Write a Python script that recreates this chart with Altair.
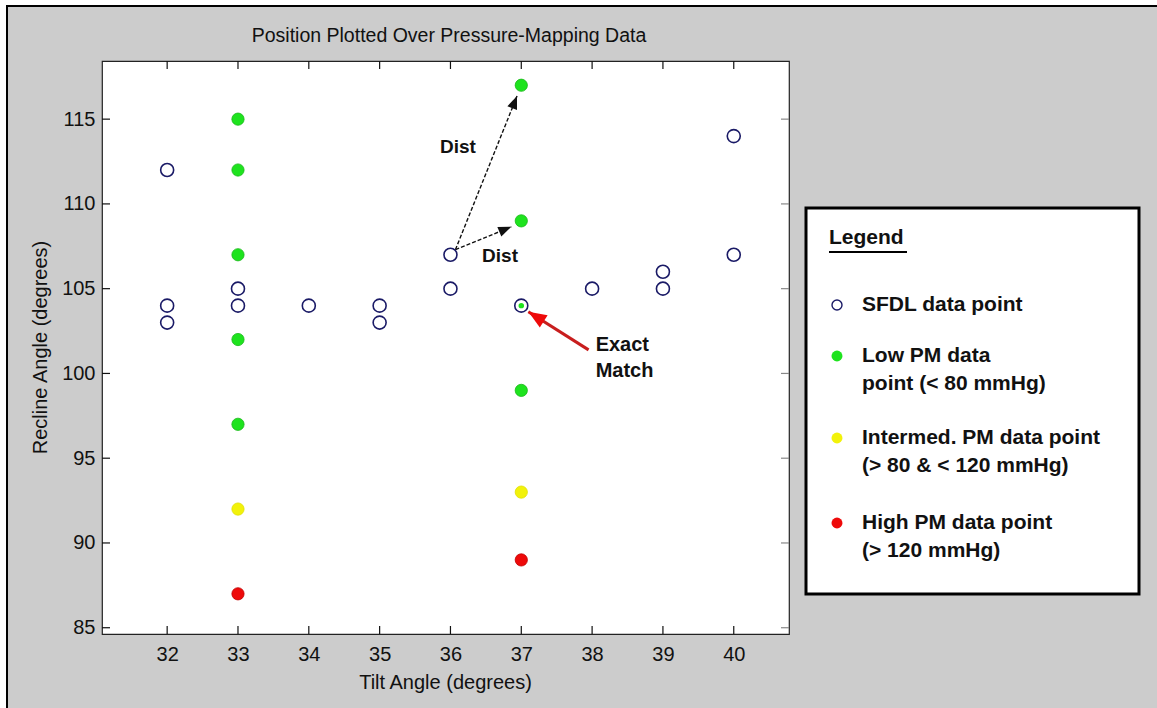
import math
import altair as alt
import pandas as pd

# ---------------- data ----------------
sfdl_tilt = [32, 32, 32, 33, 33, 34, 35, 35, 36, 36, 37, 38, 39, 39, 40, 40]
sfdl_recline = [112, 104, 103, 105, 104, 104, 104, 103, 107, 105, 104, 105, 106, 105, 114, 107]

low_tilt = [33, 33, 33, 33, 33, 37, 37, 37]
low_recline = [115, 112, 107, 102, 97, 117, 109, 99]

exact_tilt = [37]
exact_recline = [104]

inter_tilt = [33, 37]
inter_recline = [92, 93]

high_tilt = [33, 37]
high_recline = [87, 89]

x_ticks = [32, 33, 34, 35, 36, 37, 38, 39, 40]
y_ticks = [85, 90, 95, 100, 105, 110, 115]

title_text = "Position Plotted Over Pressure-Mapping Data"
x_title = "Tilt Angle (degrees)"
y_title = "Recline Angle (degrees)"

# annotation arrows (tail -> tip, data units)
dist_x1 = [36.07, 36.07]
dist_y1 = [107.3, 107.3]
dist_x2 = [36.94, 36.86]
dist_y2 = [116.36, 108.65]
dist_text = ["Dist", "Dist"]
dist_tx = [36.106, 36.70]
dist_ty = [113.37, 106.9]

match_x1 = [37.95]
match_y1 = [101.39]
match_x2 = [37.10]
match_y2 = [103.64]
match_text = ["Exact", "Match"]
match_tx = [38.05, 38.05]
match_ty = [101.68, 100.17]

legend_title = "Legend"
legend_labels = [
    ["SFDL data point"],
    ["Low PM data", "point (< 80 mmHg)"],
    ["Intermed. PM data point", "(> 80 & < 120 mmHg)"],
    ["High PM data point", "(> 120 mmHg)"],
]

# ---------------- layout ----------------
W, H = 687, 573
PL, PT = 102, 61
TOTAL_W, TOTAL_H = 1157, 708
XDOM = [31.08, 40.78]
YDOM = [84.63, 118.43]
FONT = "Liberation Sans"

NAVY = "#1a1a66"
GREEN = "#1ee31e"
YELLOW = "#f2f20a"
RED = "#ee0a0a"

xs = alt.Scale(domain=XDOM, nice=False, zero=False)
ys = alt.Scale(domain=YDOM, nice=False, zero=False)
x_axis = alt.Axis(values=x_ticks, title=None, labelPadding=10, labelFlush=False)
y_axis = alt.Axis(values=y_ticks, title=None, labelPadding=7)


def X(f):
    return alt.X(f"{f}:Q", scale=xs, axis=x_axis)


def Y(f):
    return alt.Y(f"{f}:Q", scale=ys, axis=y_axis)


one = alt.Data(values=[{"a": 1}])


def box(x1, x2, y1, y2, fill, stroke=None, sw=0):
    kw = dict(fill=fill, strokeWidth=sw)
    if stroke:
        kw["stroke"] = stroke
    return alt.Chart(one).mark_rect(**kw).encode(
        x=alt.value(x1), x2=alt.value(x2), y=alt.value(y1), y2=alt.value(y2))


def label(text, x, y, size=20, bold=False, align="left", angle=0, color="#111"):
    kw = dict(font=FONT, fontSize=size, fontWeight="bold" if bold else "normal",
              align=align, baseline="middle", color=color)
    if angle:
        kw["angle"] = angle
    return alt.Chart(one).mark_text(**kw).encode(
        x=alt.value(x), y=alt.value(y), text=alt.value(text))


layers = []

# outer frame decorations (white margin, black border at top/left)
layers.append(box(-PL, -PL + 6, -PT, TOTAL_H - PT, "white"))
layers.append(box(-PL, TOTAL_W - PL, -PT, -PT + 5, "white"))
layers.append(box(-PL + 6, -PL + 8, -PT + 5, TOTAL_H - PT, "black"))
layers.append(box(-PL + 6, TOTAL_W - PL, -PT + 5, -PT + 7, "black"))

# inward ticks on all four sides
xt = pd.DataFrame({"t": x_ticks})
yt = pd.DataFrame({"t": y_ticks})
layers.append(alt.Chart(xt).mark_rule(color="#111", strokeWidth=1.2).encode(
    x=X("t"), y=alt.value(H), y2=alt.value(H - 8)))
layers.append(alt.Chart(xt).mark_rule(color="#111", strokeWidth=1.2).encode(
    x=X("t"), y=alt.value(0), y2=alt.value(8)))
layers.append(alt.Chart(yt).mark_rule(color="#111", strokeWidth=1.2).encode(
    y=Y("t"), x=alt.value(0), x2=alt.value(8)))
layers.append(alt.Chart(yt).mark_rule(color="#888", strokeWidth=1.2).encode(
    y=Y("t"), x=alt.value(W), x2=alt.value(W - 8)))

# arrows
sx = W / (XDOM[1] - XDOM[0])
sy = H / (YDOM[1] - YDOM[0])


def arrow_df(x1, y1, x2, y2):
    d = pd.DataFrame({"x1": x1, "y1": y1, "x2": x2, "y2": y2})
    d["ang"] = [
        math.degrees(math.atan2((b - a) * sx, (q - p) * sy)) % 360
        for a, p, b, q in zip(x1, y1, x2, y2)
    ]
    return d


dist_df = arrow_df(dist_x1, dist_y1, dist_x2, dist_y2)
match_df = arrow_df(match_x1, match_y1, match_x2, match_y2)

layers.append(alt.Chart(dist_df).mark_rule(color="#111", strokeWidth=1.4, strokeDash=[4, 2]).encode(
    x=X("x1"), y=Y("y1"), x2="x2:Q", y2="y2:Q"))
layers.append(alt.Chart(match_df).mark_rule(color="#c81e1e", strokeWidth=3).encode(
    x=X("x1"), y=Y("y1"), x2="x2:Q", y2="y2:Q"))

HEAD = "M0,0L0.8,2L-0.8,2Z"

# data points
sfdl_df = pd.DataFrame({"tilt": sfdl_tilt, "recline": sfdl_recline})
low_df = pd.DataFrame({"tilt": low_tilt, "recline": low_recline})
exact_df = pd.DataFrame({"tilt": exact_tilt, "recline": exact_recline})
inter_df = pd.DataFrame({"tilt": inter_tilt, "recline": inter_recline})
high_df = pd.DataFrame({"tilt": high_tilt, "recline": high_recline})

layers.append(alt.Chart(low_df).mark_circle(color=GREEN, opacity=1, size=150,
                                             stroke="#18b818", strokeWidth=0.8).encode(
    x=X("tilt"), y=Y("recline")))
layers.append(alt.Chart(inter_df).mark_circle(color=YELLOW, opacity=1, size=150,
                                               stroke="#e0e000", strokeWidth=0.8).encode(
    x=X("tilt"), y=Y("recline")))
layers.append(alt.Chart(high_df).mark_circle(color=RED, opacity=1, size=150,
                                              stroke="#c00000", strokeWidth=0.8).encode(
    x=X("tilt"), y=Y("recline")))
layers.append(alt.Chart(exact_df).mark_circle(color=GREEN, opacity=1, size=30).encode(
    x=X("tilt"), y=Y("recline")))
layers.append(alt.Chart(sfdl_df).mark_point(shape="circle", filled=False, color=NAVY,
                                             size=169, strokeWidth=1.6, opacity=1).encode(
    x=X("tilt"), y=Y("recline")))

# arrowheads
layers.append(alt.Chart(dist_df).mark_point(shape=HEAD, filled=True, color="#111",
                                             size=169, opacity=1, strokeWidth=0).encode(
    x=X("x2"), y=Y("y2"), angle=alt.Angle("ang:Q", scale=None)))
layers.append(alt.Chart(match_df).mark_point(shape=HEAD, filled=True, color=RED,
                                              size=330, opacity=1, strokeWidth=0).encode(
    x=X("x2"), y=Y("y2"), angle=alt.Angle("ang:Q", scale=None)))

# annotation texts
ann_df = pd.DataFrame({
    "x": dist_tx + match_tx,
    "y": dist_ty + match_ty,
    "txt": dist_text + match_text,
    "al": ["center", "center", "left", "left"],
})
layers.append(alt.Chart(ann_df[ann_df.al == "center"]).mark_text(
    font=FONT, fontSize=19, fontWeight="bold", color="#111", align="center", baseline="middle").encode(
    x=X("x"), y=Y("y"), text="txt:N"))
layers.append(alt.Chart(ann_df[ann_df.al == "left"]).mark_text(
    font=FONT, fontSize=20, fontWeight="bold", color="#111", align="left", baseline="middle").encode(
    x=X("x"), y=Y("y"), text="txt:N"))

# ---------------- legend (drawn beside the axes) ----------------
LX0, LX1, LY0, LY1 = 704, 1037, 147, 533
layers.append(box(LX0, LX1, LY0, LY1, "white", "black", 3))
layers.append(label(legend_title, 727, 177, size=21, bold=True))
layers.append(alt.Chart(one).mark_rule(color="black", strokeWidth=2).encode(
    x=alt.value(727), x2=alt.value(805), y=alt.value(191)))

item_y = [244, 295, 377, 462]
line_h = 28
marker_x = 735
text_x = 760
for i, lines in enumerate(legend_labels):
    for j, ln in enumerate(lines):
        layers.append(label(ln, text_x, item_y[i] + j * line_h, size=21, bold=True))

layers.append(alt.Chart(one).mark_point(shape="circle", filled=False, color=NAVY, size=100,
                                        strokeWidth=1.4, opacity=1).encode(
    x=alt.value(marker_x), y=alt.value(item_y[0])))
for c, yy in zip([GREEN, YELLOW, RED], item_y[1:]):
    layers.append(alt.Chart(one).mark_circle(color=c, size=120, opacity=1).encode(
        x=alt.value(marker_x), y=alt.value(yy)))

# titles
layers.append(label(title_text, 347, 36 - PT, size=19.5, align="center"))
layers.append(label(x_title, W / 2, 683 - PT, size=20, align="center"))
layers.append(label(y_title, 41 - PL, H / 2, size=20, align="center", angle=270))

chart = alt.layer(*layers).properties(
    width=W,
    height=H,
    autosize=alt.AutoSizeParams(type="none"),
    padding={"left": PL, "top": PT, "right": TOTAL_W - PL - W, "bottom": TOTAL_H - PT - H},
).configure(background="#cccccc").configure_view(
    fill="white", stroke="#222", strokeWidth=1.2
).configure_axis(
    labelFont=FONT, labelFontSize=20, labelColor="#111", ticks=False, tickSize=0,
    domain=False, grid=False,
)

chart.save("out.html", embed_options={"renderer": "svg", "actions": False})
